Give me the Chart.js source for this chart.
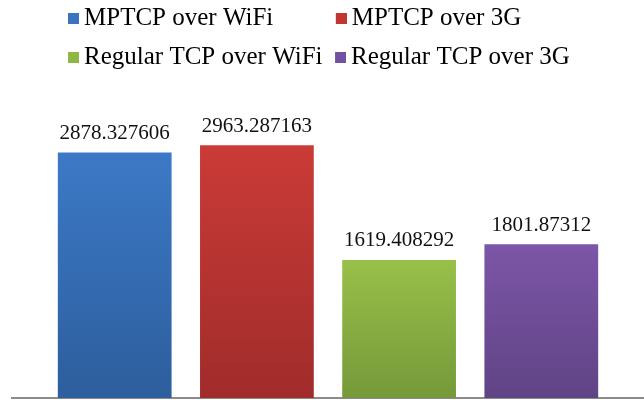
<!DOCTYPE html>
<html>
<head>
<meta charset="utf-8">
<script src="https://cdn.jsdelivr.net/npm/chart.js@4.4.1/dist/chart.umd.min.js"></script>
<style>
  html, body { margin: 0; padding: 0; background: #ffffff; }
  #wrap { width: 644px; height: 400px; position: relative; }
</style>
</head>
<body>
<div id="wrap"><canvas id="c"></canvas></div>
<script>
// ---- data ----
const categories = [''];
const seriesNames = ['MPTCP over WiFi', 'MPTCP over 3G', 'Regular TCP over WiFi', 'Regular TCP over 3G'];
const seriesValues = [2878.327606, 2963.287163, 1619.408292, 1801.87312];
const valueLabels = ['2878.327606', '2963.287163', '1619.408292', '1801.87312'];

// ---- styles ----
const topColors = ['#3c79c6', '#ca3b37', '#98c049', '#7c56a7'];
const bottomColors = ['#2d5e9d', '#a02c2b', '#76993a', '#604385'];
const legendColors = ['#3a74bf', '#c23632', '#8fb744', '#7151a1'];
const FONT = '"Liberation Serif", "Times New Roman", serif';

function gradientFor(i) {
  return function (context) {
    const chart = context.chart;
    const area = chart.chartArea;
    if (!area || !chart.scales.y) return topColors[i];
    const yTop = chart.scales.y.getPixelForValue(seriesValues[i]);
    const g = chart.ctx.createLinearGradient(0, yTop, 0, area.bottom);
    g.addColorStop(0, topColors[i]);
    g.addColorStop(1, bottomColors[i]);
    return g;
  };
}

function squareMarker(color) {
  const cv = document.createElement('canvas');
  cv.width = 17; cv.height = 11;
  const cx = cv.getContext('2d');
  cx.fillStyle = color;
  cx.fillRect(6, 0, 11, 11);
  return cv;
}
const markers = legendColors.map(squareMarker);

const datasets = seriesNames.map((name, i) => ({
  label: name,
  data: [seriesValues[i]],
  backgroundColor: gradientFor(i),
  borderWidth: 0,
  categoryPercentage: 0.9,
  barPercentage: 0.8
}));

const valueLabelPlugin = {
  id: 'valueLabels',
  afterDatasetsDraw(chart) {
    const ctx = chart.ctx;
    ctx.save();
    ctx.font = '21px ' + FONT;
    ctx.fillStyle = '#111111';
    ctx.textAlign = 'center';
    ctx.textBaseline = 'alphabetic';
    chart.data.datasets.forEach((ds, i) => {
      const meta = chart.getDatasetMeta(i);
      meta.data.forEach((el) => {
        ctx.fillText(valueLabels[i], el.x, el.y - 13.5);
      });
    });
    ctx.restore();
  }
};

const legendShiftPlugin = {
  id: 'legendShift',
  afterLayout(chart) {
    const lg = chart.legend;
    if (!lg) return;
    const h = lg.height;
    lg.left = 55.5;
    lg.top = -8.5;
    lg.bottom = lg.top + h;
  }
};

new Chart(document.getElementById('c'), {
  type: 'bar',
  data: { labels: categories, datasets: datasets },
  options: {
    responsive: true,
    maintainAspectRatio: false,
    animation: false,
    layout: { padding: { left: 12, right: 0, top: 3, bottom: 2 } },
    scales: {
      x: {
        display: true,
        grid: { display: false, drawTicks: false },
        ticks: { display: false },
        border: { display: true, color: '#8c8c8c', width: 2 }
      },
      y: {
        display: false,
        min: 0,
        max: 3600
      }
    },
    plugins: {
      tooltip: { enabled: false },
      legend: {
        position: 'top',
        align: 'start',
        labels: {
          font: { family: FONT, size: 25 },
          color: '#000000',
          padding: 14,
          usePointStyle: true,
          pointStyleWidth: 2,
          generateLabels(chart) {
            const items = Chart.defaults.plugins.legend.labels.generateLabels(chart);
            const ctx = chart.ctx;
            ctx.save();
            ctx.font = '25px ' + FONT;
            // align first-column entries so the second column lines up
            const firstCol = [0, 2].filter(k => k < items.length);
            const widths = firstCol.map(k => ctx.measureText(items[k].text).width);
            const maxW = Math.max.apply(null, widths);
            firstCol.forEach((k) => {
              let t = items[k].text;
              while (ctx.measureText(t + ' ').width <= maxW + 3) t += ' ';
              items[k].text = t;
            });
            ctx.restore();
            items.forEach((it, k) => {
              it.pointStyle = markers[k];
              it.fillStyle = legendColors[k];
              it.strokeStyle = legendColors[k];
              it.lineWidth = 0;
            });
            return items;
          }
        }
      }
    }
  },
  plugins: [valueLabelPlugin, legendShiftPlugin]
});
</script>
</body>
</html>
